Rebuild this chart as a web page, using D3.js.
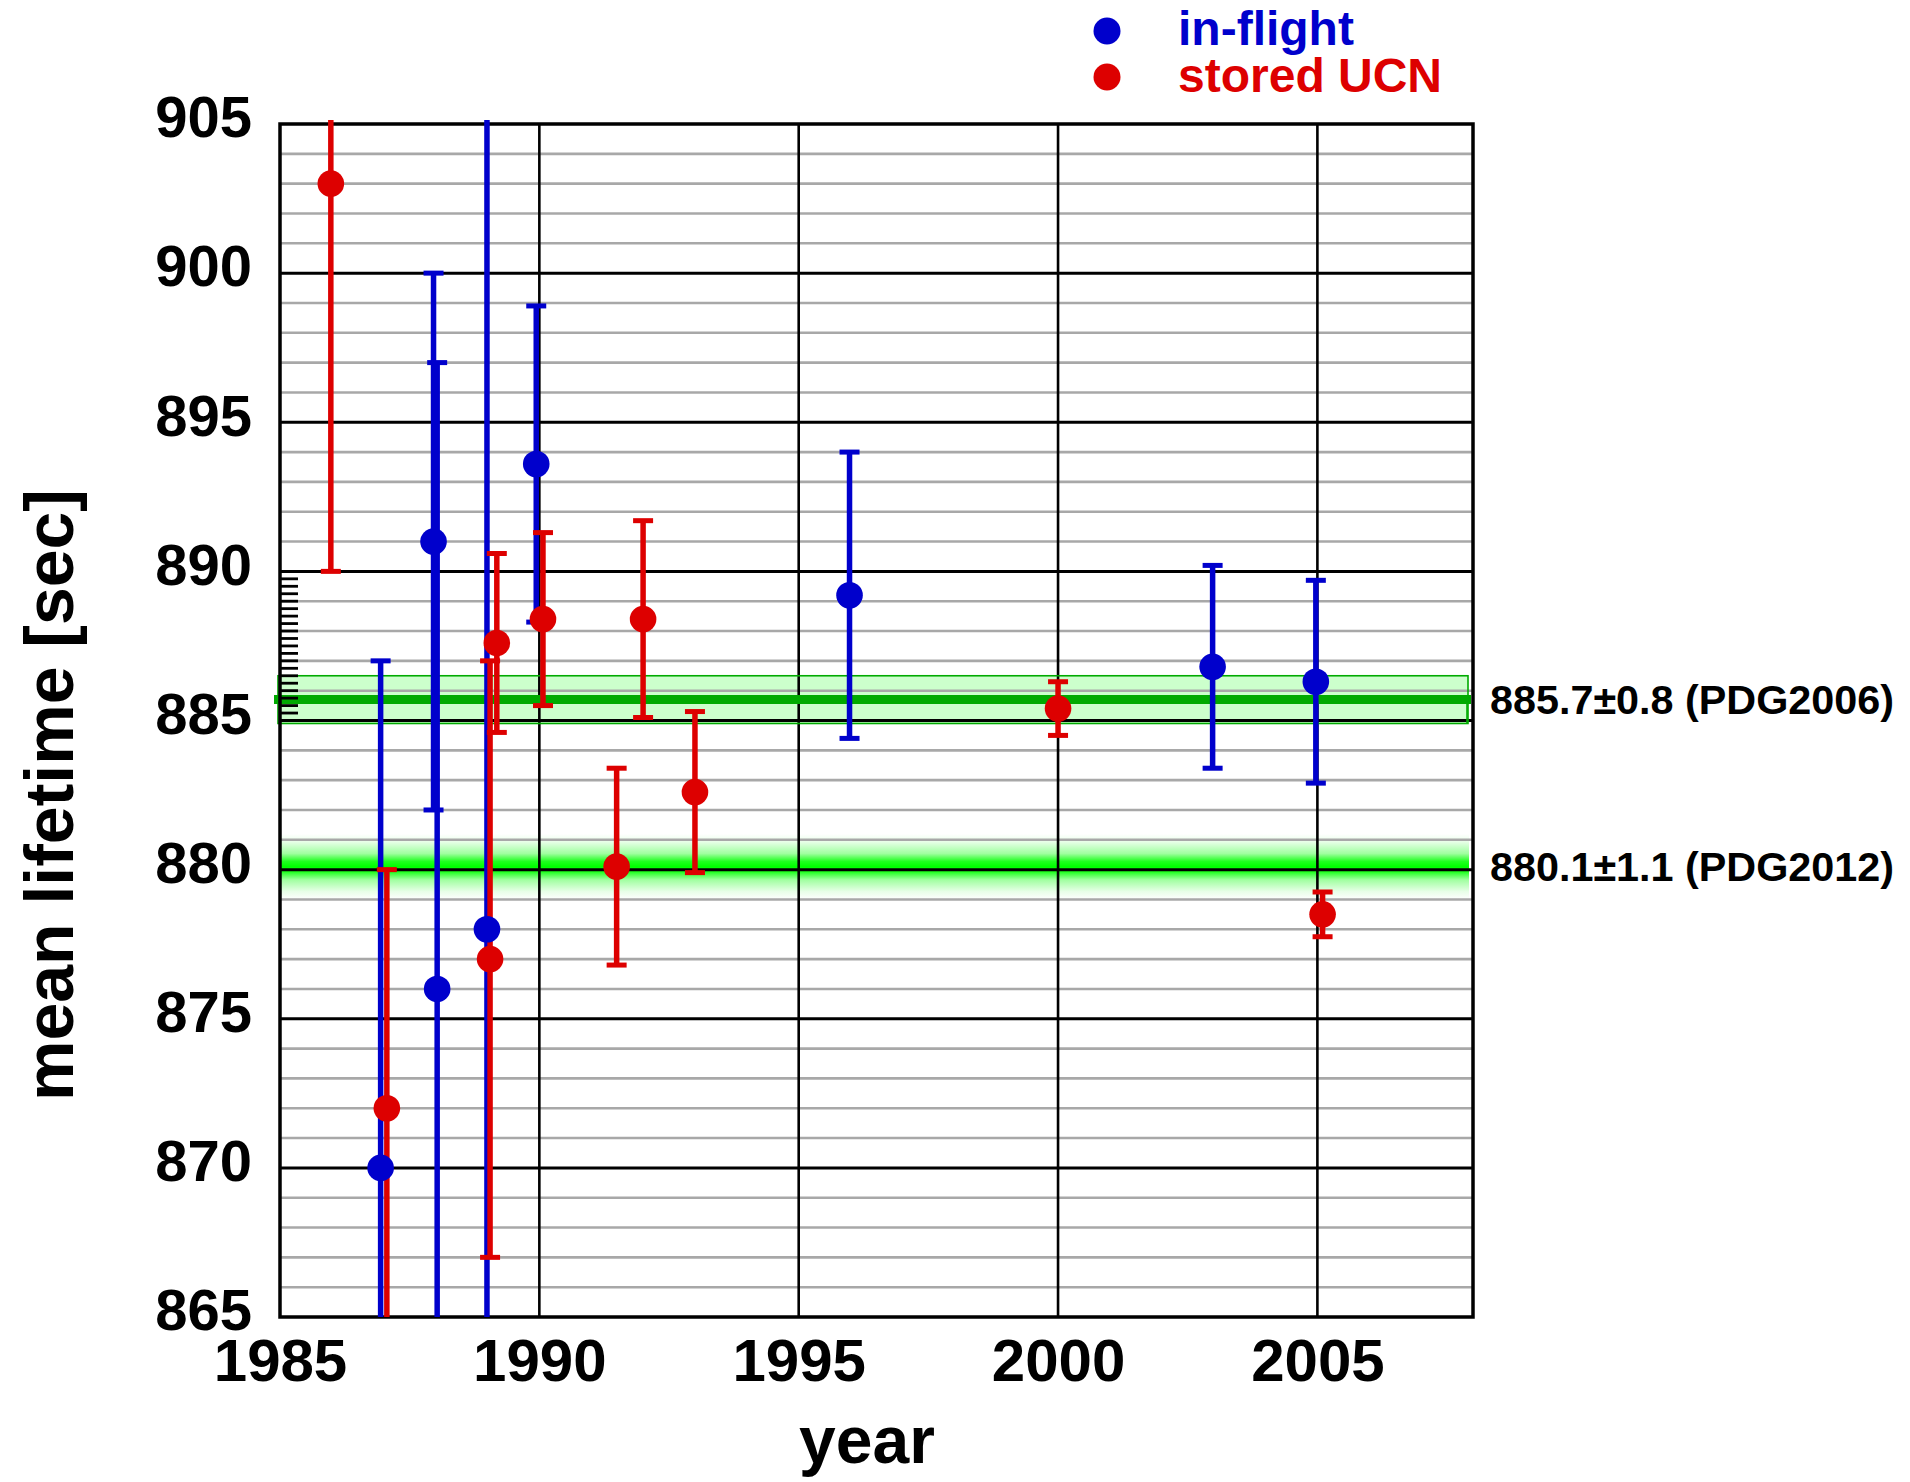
<!DOCTYPE html>
<html><head><meta charset="utf-8">
<script src="https://cdn.jsdelivr.net/npm/d3@7/dist/d3.min.js"></script>
<style>body{margin:0;background:#fff}svg{display:block}</style>
</head><body>
<svg id="c" width="1910" height="1482"></svg>
<script>
// ---- data ----
const inflightYear = [1986.94, 1987.96, 1988.03, 1988.99, 1989.94, 1995.98, 2002.98, 2004.97];
const inflightTau  = [870, 891, 876, 878, 893.6, 889.2, 886.8, 886.3];
const inflightErr  = [17, 9, 21, 30, 5.3, 4.8, 3.4, 3.4];

const storedYear = [1985.98, 1987.06, 1989.05, 1989.18, 1990.07, 1991.49, 1992.0, 1993.0, 2000.0, 2005.1];
const storedTau  = [903, 872, 877, 887.6, 888.4, 880.1, 888.4, 882.6, 885.4, 878.5];
const storedErr  = [13, 8, 10, 3.0, 2.9, 3.3, 3.3, 2.7, 0.9, 0.75];

const pdgValue  = [885.7, 880.1];
const pdgErr    = [0.8, 1.1];
const pdgLabels = ["885.7\u00B10.8 (PDG2006)", "880.1\u00B11.1 (PDG2012)"];

const yTicks = [865, 870, 875, 880, 885, 890, 895, 900, 905];
const xTicks = [1985, 1990, 1995, 2000, 2005];
const legendLabels = ["in-flight", "stored UCN"];
const xTitle = "year";
const yTitle = "mean lifetime [sec]";

// ---- layout ----
const L = 280, R = 1473, T = 124, B = 1317;
const BLUE = "#0000cc", RED = "#dd0000";
const FONT = "'Liberation Sans', Arial, Helvetica, sans-serif";

const x = d3.scaleLinear().domain([1985, 2008]).range([L, R]);
const y = d3.scaleLinear().domain([865, 905]).range([B, T]);

const svg = d3.select("#c");
const defs = svg.append("defs");
defs.append("clipPath").attr("id", "clip")
  .append("rect").attr("x", L - 30).attr("y", T - 4).attr("width", R - L + 60).attr("height", B - T + 4);

const grad = defs.append("linearGradient").attr("id", "g2012")
  .attr("x1", 0).attr("y1", 0).attr("x2", 0).attr("y2", 1);
[[0, "#ffffff"], [0.12, "#e8ffe8"], [0.3, "#a0ffa0"], [0.42, "#20ff20"], [0.5, "#00ff00"],
 [0.58, "#20ff20"], [0.7, "#a0ffa0"], [0.88, "#e8ffe8"], [1, "#ffffff"]]
  .forEach(([o, c]) => grad.append("stop").attr("offset", o).attr("stop-color", c));

// ---- PDG bands (under grid) ----
svg.append("rect")
  .attr("x", L - 2).attr("width", 1468 - (L - 2))
  .attr("y", y(pdgValue[0] + pdgErr[0])).attr("height", y(pdgValue[0] - pdgErr[0]) - y(pdgValue[0] + pdgErr[0]))
  .attr("fill", "#ccffcc");
svg.append("rect")
  .attr("x", L).attr("width", 1469 - L)
  .attr("y", y(pdgValue[1] + pdgErr[1])).attr("height", y(pdgValue[1] - pdgErr[1]) - y(pdgValue[1] + pdgErr[1]))
  .attr("fill", "url(#g2012)");

// ---- grid ----
const minor = d3.range(866, 905).filter(v => v % 5 !== 0);
svg.append("g").selectAll("line").data(minor).join("line")
  .attr("x1", L).attr("x2", R).attr("y1", d => y(d)).attr("y2", d => y(d))
  .attr("stroke", "#a8a8a8").attr("stroke-width", 2.6);
svg.append("g").selectAll("line").data(yTicks.slice(1, -1)).join("line")
  .attr("x1", L).attr("x2", R).attr("y1", d => y(d)).attr("y2", d => y(d))
  .attr("stroke", "#000").attr("stroke-width", 3);
svg.append("g").selectAll("line").data(xTicks.slice(1)).join("line")
  .attr("x1", d => x(d)).attr("x2", d => x(d)).attr("y1", T).attr("y2", B)
  .attr("stroke", "#000").attr("stroke-width", 2.6);

// PDG2006 outline + central line
svg.append("rect")
  .attr("x", L - 2).attr("width", 1468 - (L - 2))
  .attr("y", y(pdgValue[0] + pdgErr[0])).attr("height", y(pdgValue[0] - pdgErr[0]) - y(pdgValue[0] + pdgErr[0]))
  .attr("fill", "none").attr("stroke", "#00aa00").attr("stroke-width", 1.6);
svg.append("line")
  .attr("x1", L - 6).attr("x2", R - 2).attr("y1", y(pdgValue[0])).attr("y2", y(pdgValue[0]))
  .attr("stroke", "#00aa00").attr("stroke-width", 9);
svg.append("line")
  .attr("x1", R - 6).attr("x2", R - 6).attr("y1", y(pdgValue[0])).attr("y2", y(pdgValue[0] - pdgErr[0]))
  .attr("stroke", "#00aa00").attr("stroke-width", 1.6);

// dense ticks on the left edge
svg.append("g").selectAll("line").data(d3.range(885, 890.001, 0.25)).join("line")
  .attr("x1", L).attr("x2", L + 18).attr("y1", d => y(d)).attr("y2", d => y(d))
  .attr("stroke", "#000").attr("stroke-width", 2.8);

// border
svg.append("rect").attr("x", L).attr("y", T).attr("width", R - L).attr("height", B - T)
  .attr("fill", "none").attr("stroke", "#000").attr("stroke-width", 3.5);

// ---- axes labels ----
const ya = svg.append("g").attr("transform", `translate(${L},0)`)
  .call(d3.axisLeft(y).tickValues(yTicks).tickSize(0).tickPadding(28).tickFormat(d3.format("d")));
ya.select(".domain").remove();
ya.selectAll("text").attr("dy", "0.22em")
  .style("font-family", FONT).style("font-weight", "bold").style("font-size", "58px").attr("fill", "#000");

const xa = svg.append("g").attr("transform", `translate(0,${B})`)
  .call(d3.axisBottom(x).tickValues(xTicks).tickSize(0).tickPadding(21).tickFormat(d3.format("d")));
xa.select(".domain").remove();
xa.selectAll("text")
  .style("font-family", FONT).style("font-weight", "bold").style("font-size", "60px").attr("fill", "#000");

svg.append("text").attr("x", 867).attr("y", 1463).attr("text-anchor", "middle")
  .style("font-family", FONT).style("font-weight", "bold").style("font-size", "66px")
  .text(xTitle);
svg.append("text").attr("transform", "translate(73,795) rotate(-90)").attr("text-anchor", "middle")
  .style("font-family", FONT).style("font-weight", "bold").style("font-size", "68px")
  .attr("textLength", 612).attr("lengthAdjust", "spacingAndGlyphs")
  .text(yTitle);

// PDG labels
svg.append("g").selectAll("text").data(pdgLabels).join("text")
  .attr("x", 1490).attr("y", (d, i) => y(pdgValue[i]) + 14)
  .style("font-family", FONT).style("font-weight", "bold").style("font-size", "40px")
  .attr("textLength", 404).attr("lengthAdjust", "spacingAndGlyphs")
  .text(d => d);

// ---- data ----
const inflight = inflightYear.map((yr, i) => ({yr, tau: inflightTau[i], err: inflightErr[i], c: BLUE}));
const stored = storedYear.map((yr, i) => ({yr, tau: storedTau[i], err: storedErr[i], c: RED}));
const all = inflight.concat(stored);

const dg = svg.append("g").attr("clip-path", "url(#clip)");
const CAP = 10;
const bars = dg.append("g").selectAll("g").data(all).join("g");
bars.append("line")
  .attr("x1", d => x(d.yr)).attr("x2", d => x(d.yr))
  .attr("y1", d => y(d.tau + d.err)).attr("y2", d => y(d.tau - d.err))
  .attr("stroke", d => d.c).attr("stroke-width", 5.5);
bars.append("line")
  .attr("x1", d => x(d.yr) - CAP).attr("x2", d => x(d.yr) + CAP)
  .attr("y1", d => y(d.tau + d.err)).attr("y2", d => y(d.tau + d.err))
  .attr("stroke", d => d.c).attr("stroke-width", 5);
bars.append("line")
  .attr("x1", d => x(d.yr) - CAP).attr("x2", d => x(d.yr) + CAP)
  .attr("y1", d => y(d.tau - d.err)).attr("y2", d => y(d.tau - d.err))
  .attr("stroke", d => d.c).attr("stroke-width", 5);
dg.append("g").selectAll("circle").data(all).join("circle")
  .attr("cx", d => x(d.yr)).attr("cy", d => y(d.tau)).attr("r", 13.3)
  .attr("fill", d => d.c);

// ---- legend ----
const legColors = [BLUE, RED];
const lg = svg.append("g");
legendLabels.forEach((lab, i) => {
  lg.append("circle").attr("cx", 1107).attr("cy", 31 + i * 46).attr("r", 13.5).attr("fill", legColors[i]);
  lg.append("text").attr("x", 1178).attr("y", 45 + i * 46.5)
    .style("font-family", FONT).style("font-weight", "bold").style("font-size", "48px")
    .attr("fill", legColors[i]).text(lab);
});
</script>
</body></html>
